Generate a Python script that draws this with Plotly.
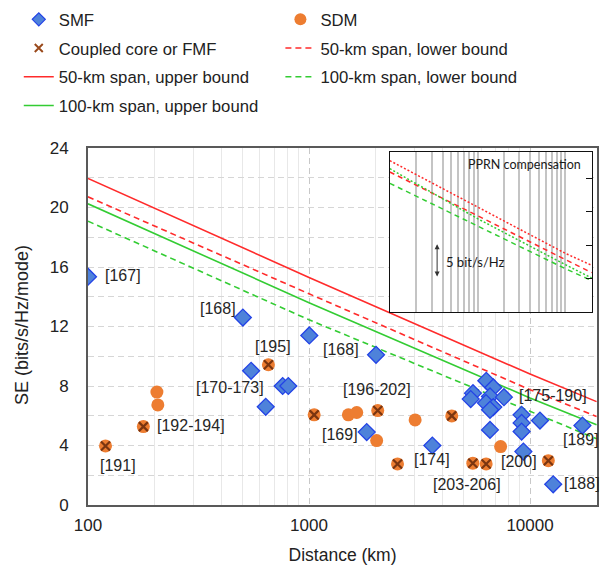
import numpy as np
import plotly.graph_objects as go

# ---------------- data ----------------
smf_x = [100, 502, 1003, 2010, 547, 637, 760, 806, 1824, 3614,
         5520, 5390, 6340, 6820, 6590, 6320, 6820, 6590, 7620,
         9160, 9160, 9160, 11090, 17260, 6590, 9330, 12730]
smf_y = [15.35, 12.6, 11.4, 10.1, 9.02, 6.6, 8.0, 8.0, 4.9, 4.0,
         7.52, 7.12, 8.35, 7.9, 7.3, 6.85, 6.58, 6.4, 7.25,
         6.06, 5.52, 4.94, 5.68, 5.34, 5.05, 3.59, 1.39]

sdm_x = [205, 207, 1507, 1644, 2023, 3020, 7360]
sdm_y = [7.59, 6.73, 6.06, 6.22, 4.33, 5.72, 3.93]

cc_x = [120, 178, 655, 1055, 2046, 2514, 4425, 5510, 6330, 12100]
cc_y = [3.97, 5.27, 9.43, 6.06, 6.35, 2.76, 5.99, 2.81, 2.76, 2.98]

bound_x = [100, 1000, 10000, 20000]
up50 = [21.95, 15.3, 8.8, 6.95]
lo50 = [20.72, 14.2, 7.75, 5.95]
up100 = [20.25, 13.6, 7.2, 5.4]
lo100 = [19.08, 12.45, 6.3, 4.45]

inset_x = [100, 1000, 10000, 20000]
inset_up50 = [22.7, 15.7, 8.8, 7.0]
inset_lo50 = [21.0, 14.4, 7.8, 5.9]
inset_up100 = [21.5, 14.0, 7.1, 5.1]
inset_lo100 = [19.3, 12.9, 6.5, 4.7]

ref_labels = ["[167]", "[168]", "[195]", "[168]", "[170-173]", "[192-194]", "[191]",
              "[169]", "[196-202]", "[174]", "[203-206]", "[200]", "[175-190]",
              "[189]", "[188]"]
ref_label_x = [117, 315, 556, 1129, 302, 202, 111, 1121, 1396, 2934, 3554, 7263, 8758, 13770, 13910]
ref_label_y = [15.42, 13.2, 10.66, 10.44, 7.93, 5.32, 2.65, 4.76, 7.74, 3.03, 1.41, 2.92, 7.34, 4.38, 1.46]

x_major_ticks = [100, 1000, 10000]
x_major_text = ["100", "1000", "10000"]
x_minor_ticks = [200, 300, 400, 500, 600, 700, 800, 900,
                 2000, 3000, 4000, 5000, 6000, 7000, 8000, 9000]
y_ticks = [0, 4, 8, 12, 16, 20, 24]
inset_y_ticks = [5, 10, 15, 20]

# ---------------- styles ----------------
FONT = "Liberation Sans, Arial, sans-serif"
RED = "#FF2B2B"
GREEN = "#33CC33"
ORANGE = "#ED7D31"
BROWN = "#7A3510"
BLUE_FILL = "#4E82DA"
BLUE_LINE = "#2343E6"

fig = go.Figure()

# bounds (main)
fig.add_trace(go.Scatter(x=bound_x, y=up50, mode="lines", name="50-km span, upper bound",
                         line=dict(color=RED, width=1.6), legend="legend", legendrank=3,
                         legendgroup="g3"))
fig.add_trace(go.Scatter(x=bound_x, y=lo50, mode="lines", name="50-km span, lower bound",
                         line=dict(color=RED, width=1.6, dash="6px,4px"), legend="legend2",
                         legendrank=2, legendgroup="h2"))
fig.add_trace(go.Scatter(x=bound_x, y=up100, mode="lines", name="100-km span, upper bound",
                         line=dict(color=GREEN, width=1.6), legend="legend", legendrank=4,
                         legendgroup="g4"))
fig.add_trace(go.Scatter(x=bound_x, y=lo100, mode="lines", name="100-km span, lower bound",
                         line=dict(color=GREEN, width=1.6, dash="6px,4px"), legend="legend2",
                         legendrank=3, legendgroup="h3"))

# SDM circles (plain + coupled core)
fig.add_trace(go.Scatter(x=sdm_x + cc_x, y=sdm_y + cc_y, mode="markers", name="SDM",
                         marker=dict(symbol="circle", size=13, color=ORANGE, line=dict(width=0)),
                         showlegend=False))
fig.add_trace(go.Scatter(x=cc_x, y=cc_y, mode="markers", name="Coupled core or FMF",
                         marker=dict(symbol="x-thin", size=9, color=BROWN,
                                     line=dict(width=2.2, color=BROWN)),
                         showlegend=False))
fig.add_trace(go.Scatter(x=smf_x, y=smf_y, mode="markers", name="SMF",
                         marker=dict(symbol="diamond", size=13, color=BLUE_FILL,
                                     line=dict(width=1.3, color=BLUE_LINE)),
                         showlegend=False))

# legend-only entries (smaller symbols as in the reference legend)
fig.add_trace(go.Scatter(x=[None], y=[None], mode="markers", name="SDM",
                         marker=dict(symbol="circle", size=12, color=ORANGE, line=dict(width=0)),
                         legend="legend2", legendrank=1, legendgroup="h1"))
fig.add_trace(go.Scatter(x=[None], y=[None], mode="markers", name="Coupled core or FMF",
                         marker=dict(symbol="x-thin", size=8, color="#9A4A1C",
                                     line=dict(width=2, color="#9A4A1C")),
                         legend="legend", legendrank=2, legendgroup="g2"))
fig.add_trace(go.Scatter(x=[None], y=[None], mode="markers", name="SMF",
                         marker=dict(symbol="diamond", size=10, color=BLUE_FILL,
                                     line=dict(width=1.2, color=BLUE_LINE)),
                         legend="legend", legendrank=1, legendgroup="g1"))

# inset curves
fig.add_trace(go.Scatter(x=inset_x, y=inset_up50, mode="lines", xaxis="x2", yaxis="y2",
                         line=dict(color=RED, width=1.5, dash="2px,2px"), showlegend=False))
fig.add_trace(go.Scatter(x=inset_x, y=inset_lo50, mode="lines", xaxis="x2", yaxis="y2",
                         line=dict(color=RED, width=1.5, dash="5px,4px"), showlegend=False))
fig.add_trace(go.Scatter(x=inset_x, y=inset_up100, mode="lines", xaxis="x2", yaxis="y2",
                         line=dict(color=GREEN, width=1.5, dash="2px,2px"), showlegend=False))
fig.add_trace(go.Scatter(x=inset_x, y=inset_lo100, mode="lines", xaxis="x2", yaxis="y2",
                         line=dict(color=GREEN, width=1.5, dash="5px,4px"), showlegend=False))

annotations = []
for t, lx, ly in zip(ref_labels, ref_label_x, ref_label_y):
    annotations.append(dict(text=t, x=np.log10(lx), y=ly, xref="x", yref="y",
                            xanchor="left", yanchor="middle", showarrow=False,
                            font=dict(family=FONT, size=16, color="#262626")))

# y-axis title
annotations.append(dict(text="SE (bits/s/Hz/mode)", x=-0.1297, y=0.504, xref="paper",
                        yref="paper", textangle=-90, xanchor="center", yanchor="middle",
                        showarrow=False, font=dict(family=FONT, size=18, color="#222222")))

INSET_FONT = "Lato, Open Sans, sans-serif"
annotations.append(dict(text="PPRN compensation", x=0.955, y=0.92, xref="x2 domain",
                        yref="y2 domain", xanchor="right", yanchor="middle", showarrow=False,
                        font=dict(family=INSET_FONT, size=12.5, color="#1a1a1a")))
annotations.append(dict(text="5 bit/s/Hz", x=0.27, y=0.315, xref="x2 domain",
                        yref="y2 domain", xanchor="left", yanchor="middle", showarrow=False,
                        font=dict(family=INSET_FONT, size=13, color="#1a1a1a")))
annotations.append(dict(text="", x=0.234, y=0.423, ax=0.234, ay=0.212,
                        xref="x2 domain", yref="y2 domain", axref="x2 domain", ayref="y2 domain",
                        showarrow=True, arrowhead=2, startarrowhead=2, arrowside="end+start",
                        arrowsize=1, arrowwidth=1, arrowcolor="#333333"))

AXIS_LINE = "#595959"
fig.update_layout(
    width=616, height=572,
    margin=dict(l=88, r=19, t=148, b=67, autoexpand=False),
    paper_bgcolor="white", plot_bgcolor="white",
    font=dict(family=FONT, size=16, color="#222222"),
    xaxis=dict(type="log", range=[2, 4.303], tickvals=x_major_ticks, ticktext=x_major_text,
               showgrid=True, gridcolor="#c8c8c8", griddash="6px,4px", gridwidth=1,
               minor=dict(tickvals=x_minor_ticks, showgrid=True, gridcolor="#e8e8e8",
                          griddash="solid", gridwidth=1),
               showline=True, linecolor=AXIS_LINE, linewidth=2, mirror=True,
               ticks="", ticklabelstandoff=4, zeroline=False, automargin=False,
               tickfont=dict(size=17),
               title=dict(text="Distance (km)", standoff=14, font=dict(size=17.5))),
    yaxis=dict(range=[0, 24], tickvals=y_ticks,
               showgrid=True, gridcolor="#d6d6d6", griddash="6px,4px", gridwidth=1,
               minor=dict(dtick=2, showgrid=True, gridcolor="#d6d6d6", griddash="6px,4px"),
               showline=True, linecolor=AXIS_LINE, linewidth=2, mirror=True,
               ticks="", ticklabelstandoff=14, zeroline=False, automargin=False,
               tickfont=dict(size=17)),
    xaxis2=dict(type="log", range=[2, 4.303], domain=[0.593, 0.990], anchor="y2",
                tickvals=x_minor_ticks + x_major_ticks, showticklabels=False,
                showgrid=True, gridcolor="#c4c4c4", gridwidth=1.5, ticks="",
                showline=True, linecolor="#111111", linewidth=1.3, mirror=True, zeroline=False),
    yaxis2=dict(range=[0, 24], domain=[0.5406, 0.9888], anchor="x2", side="right",
                tickvals=inset_y_ticks, showticklabels=False, showgrid=False,
                ticks="inside", ticklen=6, tickcolor="#111111", tickwidth=1,
                showline=True, linecolor="#111111", linewidth=1.3, mirror=True, zeroline=False),
    legend=dict(x=-0.136, y=1.409, xanchor="left", yanchor="top", orientation="v",
                bgcolor="rgba(0,0,0,0)", tracegroupgap=4,
                font=dict(family=FONT, size=16.7, color="#222222")),
    legend2=dict(x=0.378, y=1.409, xanchor="left", yanchor="top", orientation="v",
                 bgcolor="rgba(0,0,0,0)", tracegroupgap=4,
                 font=dict(family=FONT, size=16.7, color="#222222")),
    annotations=annotations,
    showlegend=True,
)

fig.write_html("out.html", config={"displayModeBar": False},
               post_script="document.body.style.margin='0';document.body.style.overflow='hidden';")
